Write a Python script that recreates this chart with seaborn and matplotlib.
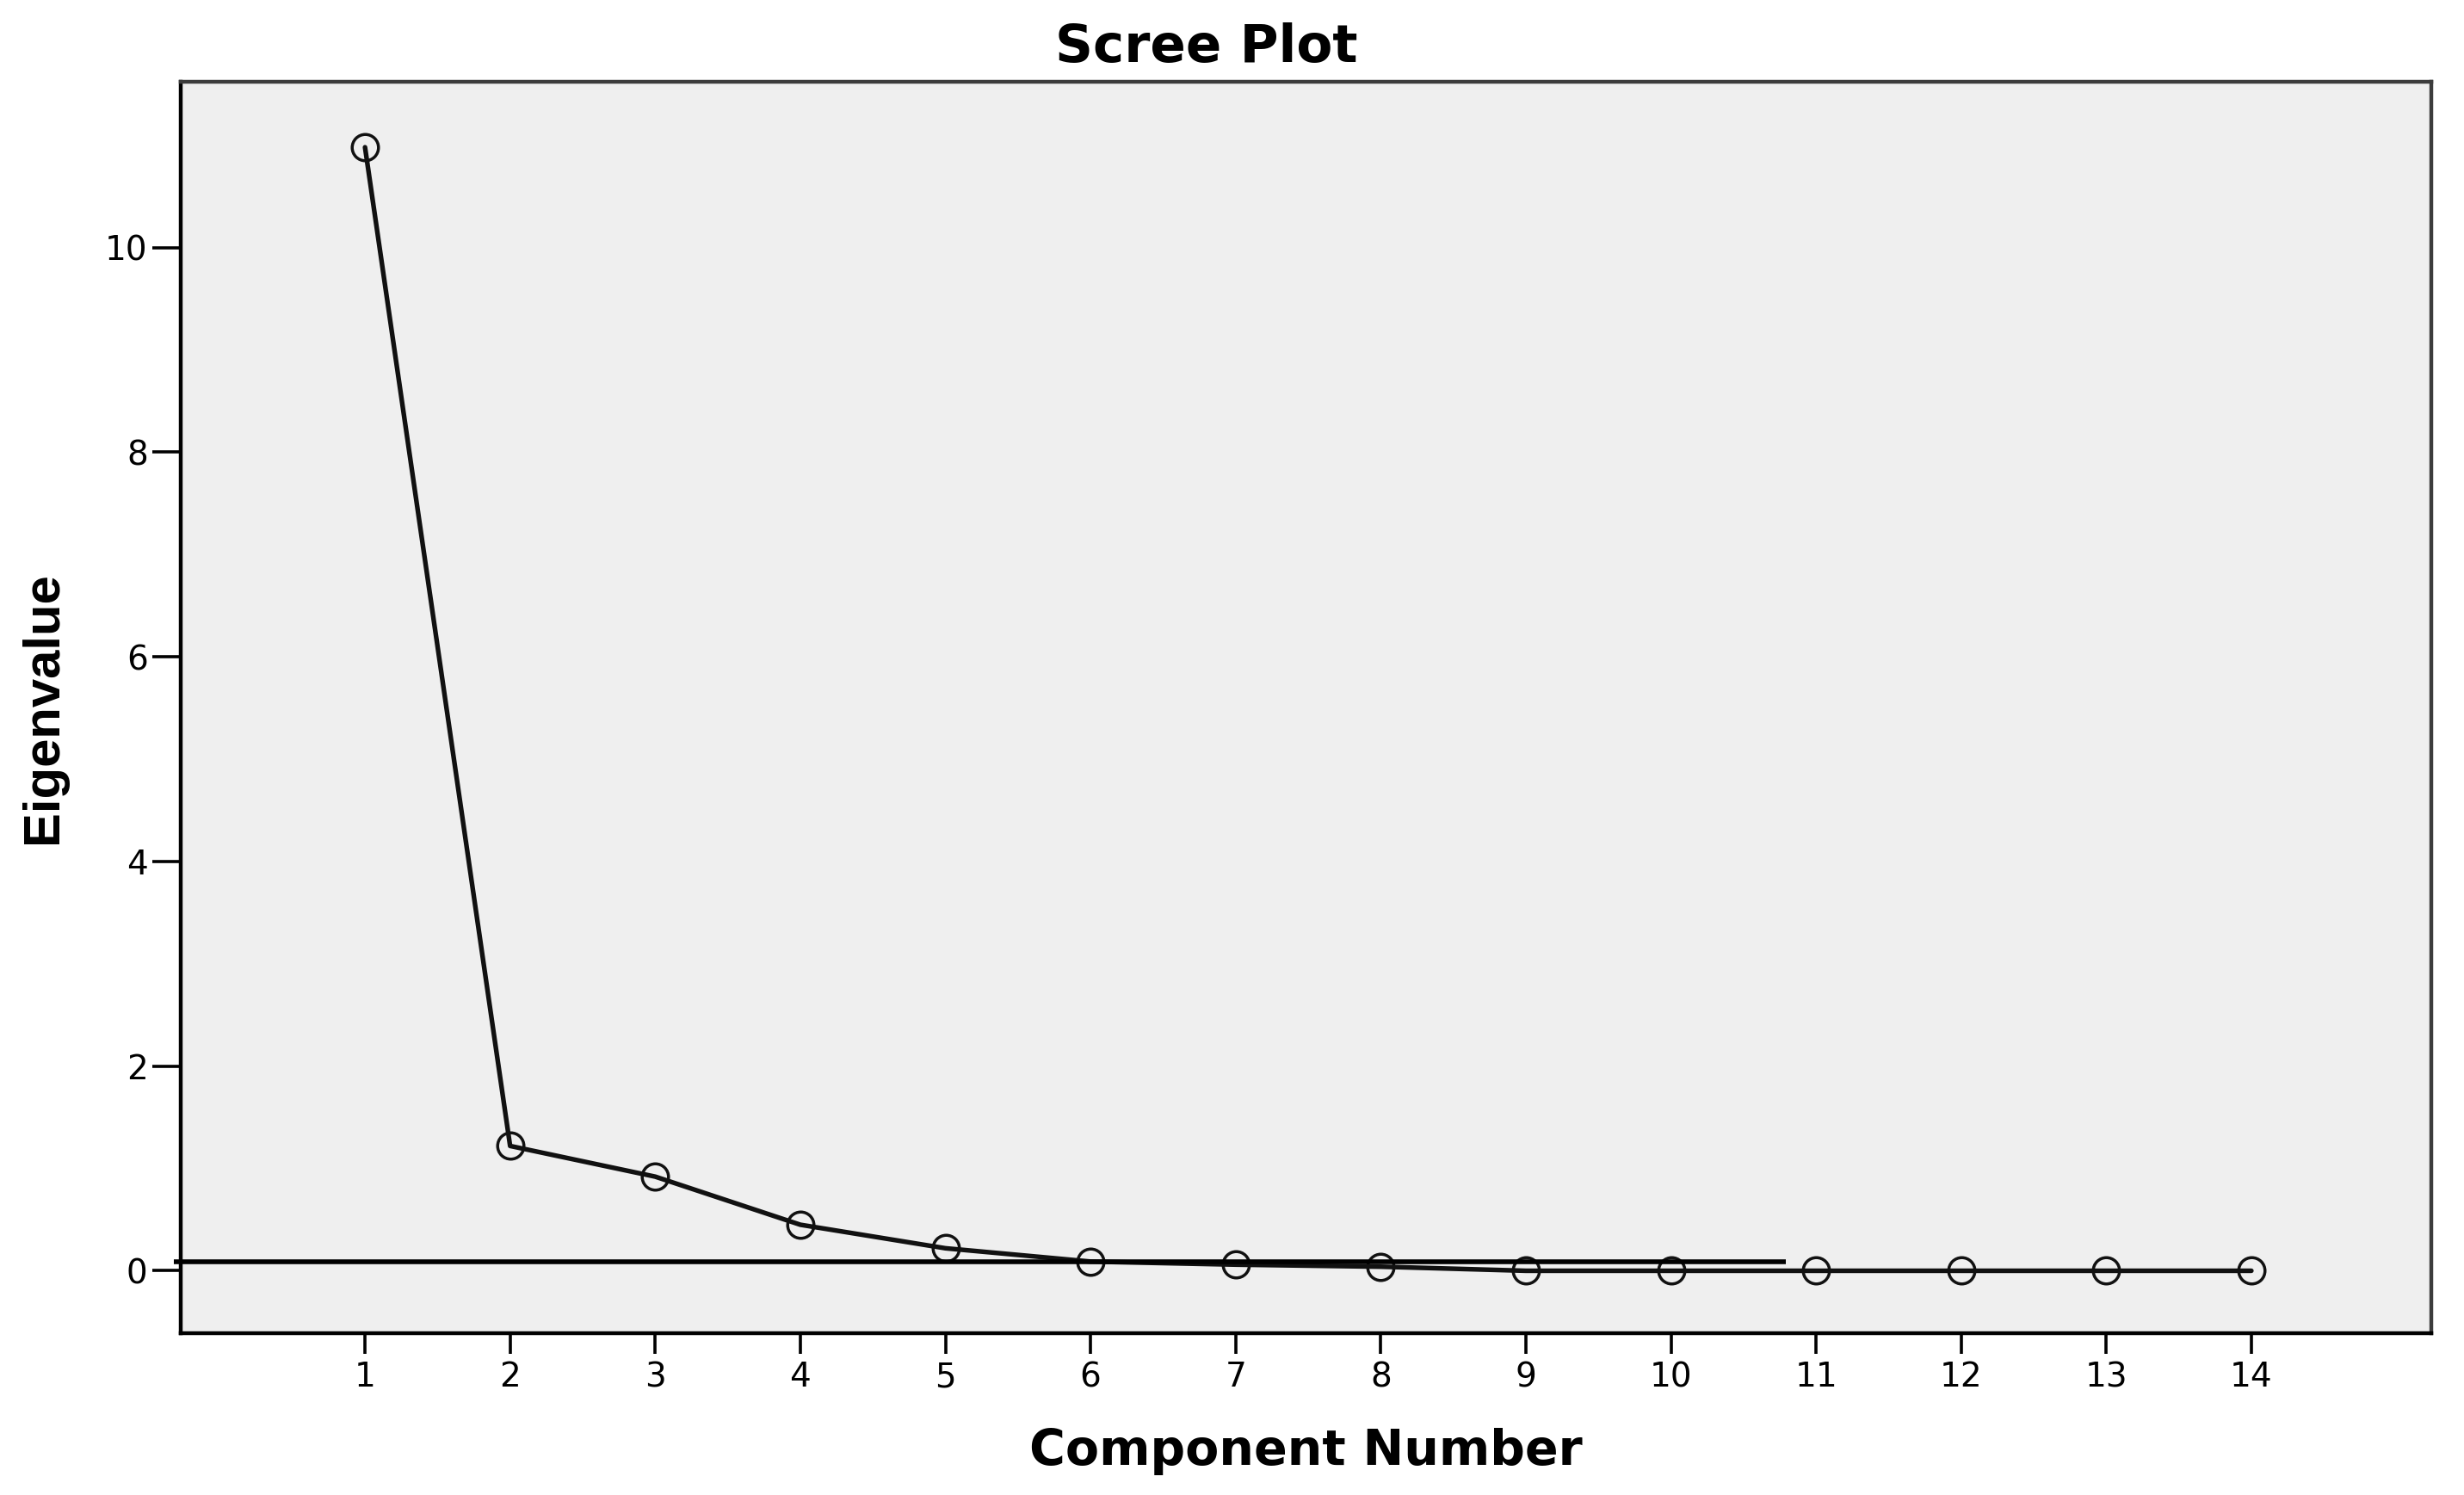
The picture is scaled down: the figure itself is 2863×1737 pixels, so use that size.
import matplotlib
matplotlib.use("Agg")
import matplotlib.pyplot as plt
import seaborn as sns
import pandas as pd

# ---- data ----
components = [1, 2, 3, 4, 5, 6, 7, 8, 9, 10, 11, 12, 13, 14]
eigenvalues = [10.98, 1.22, 0.92, 0.45, 0.22, 0.09, 0.06, 0.04, 0.0, 0.0, 0.0, 0.0, 0.0, 0.0]
y_ticks = [0, 2, 4, 6, 8, 10]
x_ticks = components
ref_line_y = 0.085
ref_line_xmin = -0.32
ref_line_xmax = 10.79

df = pd.DataFrame({"Component Number": components, "Eigenvalue": eigenvalues})

sns.set_theme(style="white")
plt.rcParams["font.family"] = ["DejaVu Sans"]

W, H = 2863, 1737
fig = plt.figure(figsize=(W / 100, H / 100), dpi=100)
ax = fig.add_axes([210 / W, 1 - 1549 / H, (2825 - 210) / W, (1549 - 95) / H])
ax.set_facecolor("#efefef")

sns.lineplot(data=df, x="Component Number", y="Eigenvalue", ax=ax,
             color="#111111", linewidth=3.9, marker="o", markersize=22,
             markerfacecolor="none", markeredgecolor="#111111",
             markeredgewidth=2.5, zorder=3)

ax.hlines(ref_line_y, ref_line_xmin, ref_line_xmax, color="black",
          linewidth=4.0, clip_on=False, zorder=4)

ax.set_xlim(-0.27, 15.24)
ax.set_ylim(-0.61, 11.62)
ax.set_xticks(x_ticks)
ax.set_yticks(y_ticks)
ax.set_xticklabels([str(c) for c in x_ticks])
ax.set_yticklabels([str(v) for v in y_ticks])

ax.tick_params(axis="both", which="major", direction="out", color="black",
               width=2.6, labelsize=28, labelcolor="black")
ax.tick_params(axis="y", length=24, pad=3.6, left=True)
ax.tick_params(axis="x", length=17, pad=6.2, bottom=True)
ax.grid(False)

for side in ["left", "bottom"]:
    ax.spines[side].set_color("black")
    ax.spines[side].set_linewidth(3.2)
for side in ["top", "right"]:
    ax.spines[side].set_color("#3c3c3c")
    ax.spines[side].set_linewidth(3.2)

ax.set_xlabel("Component Number", fontsize=41, fontweight="bold",
              family=["DejaVu Sans"], color="black", va="baseline")
ax.xaxis.set_label_coords(0.5, ((1 - 1702 / H) - (1 - 1549 / H)) / ((1549 - 95) / H))
ax.set_ylabel("Eigenvalue", fontsize=43, fontweight="bold",
              family=["Liberation Sans", "DejaVu Sans"], color="black")
ax.yaxis.set_label_coords((78 / W - 210 / W) / ((2825 - 210) / W), 0.5)

fig.text(1402 / W, 1 - 72 / H, "Scree Plot", fontsize=44, fontweight="bold",
         ha="center", va="baseline", color="black", family=["DejaVu Sans"])

fig.savefig("out.png", dpi=100, facecolor="white")
